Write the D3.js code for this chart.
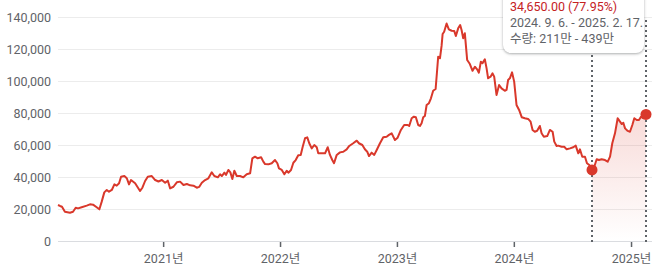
<!DOCTYPE html>
<html>
<head>
<meta charset="utf-8">
<script src="https://cdn.jsdelivr.net/npm/d3@7"></script>
<style>
  body { margin: 0; background: #fff; font-family: Roboto, "Noto Sans CJK KR", sans-serif; }
  #chart { position: relative; width: 656px; height: 270px; overflow: hidden; }
  .tip {
    position: absolute; left: 503px; top: -12px; width: 141px; height: 65px;
    background: #fff; border-radius: 8px; box-sizing: border-box;
    padding: 11px 0 0 7px; font-size: 12.5px; line-height: 16px; color: #5f6368;
    box-shadow: 0 1px 3px rgba(60,64,67,.3), 0 1px 2px rgba(60,64,67,.15);
    white-space: nowrap;
  }
  .tip .chg { color: #c5221f; }
</style>
</head>
<body>
<div id="chart"></div>
<script>
// time as decimal years
const t = [
  2020.103, 2020.120, 2020.137, 2020.162, 2020.205, 2020.231, 2020.254, 2020.274, 2020.305, 2020.348,
  2020.376, 2020.402, 2020.433, 2020.456, 2020.476, 2020.498, 2020.519, 2020.538, 2020.562, 2020.584,
  2020.604, 2020.624, 2020.641, 2020.669, 2020.690, 2020.709, 2020.726, 2020.761, 2020.803, 2020.823,
  2020.846, 2020.869, 2020.903, 2020.932, 2020.960, 2020.989, 2021.017, 2021.040, 2021.060, 2021.088,
  2021.117, 2021.145, 2021.174, 2021.203, 2021.231, 2021.259, 2021.288, 2021.308, 2021.331, 2021.359,
  2021.387, 2021.416, 2021.438, 2021.468, 2021.487, 2021.502, 2021.524, 2021.538, 2021.558, 2021.575,
  2021.592, 2021.609, 2021.630, 2021.658, 2021.686, 2021.715, 2021.744, 2021.763, 2021.786, 2021.809,
  2021.838, 2021.857, 2021.872, 2021.900, 2021.929, 2021.957, 2021.977, 2021.991, 2022.015, 2022.037,
  2022.057, 2022.071, 2022.094, 2022.114, 2022.134, 2022.156, 2022.177, 2022.194, 2022.214, 2022.233,
  2022.250, 2022.271, 2022.293, 2022.314, 2022.327, 2022.356, 2022.385, 2022.408, 2022.427, 2022.447,
  2022.462, 2022.485, 2022.513, 2022.541, 2022.570, 2022.592, 2022.626, 2022.656, 2022.675, 2022.704,
  2022.726, 2022.746, 2022.761, 2022.784, 2022.806, 2022.827, 2022.855, 2022.883, 2022.912, 2022.932,
  2022.955, 2022.983, 2023.006, 2023.034, 2023.062, 2023.091, 2023.105, 2023.126, 2023.145, 2023.162,
  2023.182, 2023.197, 2023.211, 2023.225, 2023.239, 2023.254, 2023.274, 2023.291, 2023.310, 2023.331,
  2023.344, 2023.353, 2023.368, 2023.382, 2023.391, 2023.404, 2023.425, 2023.444, 2023.468, 2023.490,
  2023.504, 2023.524, 2023.541, 2023.553, 2023.567, 2023.581, 2023.601, 2023.624, 2023.647, 2023.667,
  2023.686, 2023.701, 2023.718, 2023.732, 2023.752, 2023.767, 2023.780, 2023.801, 2023.818, 2023.832,
  2023.852, 2023.874, 2023.895, 2023.923, 2023.938, 2023.951, 2023.966, 2023.985, 2024.003, 2024.023,
  2024.045, 2024.068, 2024.094, 2024.122, 2024.143, 2024.160, 2024.179, 2024.199, 2024.222, 2024.237,
  2024.256, 2024.285, 2024.308, 2024.331, 2024.345, 2024.365, 2024.379, 2024.408, 2024.430, 2024.451,
  2024.479, 2024.507, 2024.528, 2024.550, 2024.564, 2024.584, 2024.607, 2024.624, 2024.644, 2024.667,
  2024.686, 2024.707, 2024.726, 2024.749, 2024.778, 2024.801, 2024.821, 2024.840, 2024.863, 2024.886,
  2024.900, 2024.921, 2024.934, 2024.949, 2024.972, 2024.991, 2025.011, 2025.028, 2025.049, 2025.068,
  2025.085, 2025.105, 2025.128
];
const price = [
  22500, 21900, 21400, 18300, 17700, 18300, 20800, 20400, 21100, 22100,
  22900, 22700, 21100, 19800, 24600, 30400, 31900, 30800, 31900, 35400,
  34600, 36100, 40200, 40600, 39200, 35400, 38100, 36100, 31300, 33300,
  37500, 40200, 40600, 38100, 37200, 38100, 36400, 37700, 32900, 33900,
  36700, 37100, 35000, 35600, 34800, 34600, 33300, 33800, 36400, 38100,
  39200, 42900, 40600, 39800, 41700, 40600, 42700, 41300, 44400, 42900,
  38800, 43900, 40600, 40600, 39800, 41700, 42300, 51700, 52700, 51700,
  52300, 49600, 48100, 47900, 48600, 50600, 48600, 45400, 44400, 41700,
  43900, 42700, 44400, 48900, 50600, 53600, 53800, 58900, 64200, 64800,
  61100, 57900, 60000, 58600, 54800, 54800, 54800, 58600, 53800, 50600,
  48600, 53800, 55400, 55800, 57300, 59400, 61100, 62700, 61100, 60000,
  57300, 55800, 53100, 55200, 53800, 56900, 61100, 64800, 65200, 66300,
  67300, 63100, 64600, 69400, 72500, 72500, 71900, 76700, 77700, 77300,
  72500, 71900, 73600, 77300, 78100, 85000, 86100, 89200, 93900, 95000,
  106900, 115200, 114200, 121900, 129400, 130800, 135900, 132300, 131400, 131300,
  128100, 132900, 135000, 131900, 126700, 129800, 113100, 110600, 106400, 108900,
  107300, 105200, 112100, 111100, 113600, 107900, 101700, 102700, 104800, 102700,
  91300, 97500, 95400, 93900, 94400, 100600, 101700, 105400, 99600, 85000,
  81900, 77300, 76700, 76300, 74600, 69400, 68300, 68900, 71900, 67300,
  65200, 65600, 69400, 68300, 62100, 59400, 59600, 58900, 58900, 57300,
  57900, 58600, 59600, 54800, 57300, 52700, 52700, 48600, 47500, 44451,
  46400, 51100, 50600, 51100, 50600, 49600, 52700, 61100, 67300, 76700,
  75200, 73100, 73900, 70400, 68800, 68300, 72500, 76700, 75600, 75600,
  77700, 76700, 79101
];
const yTicks = [0, 20000, 40000, 60000, 80000, 100000, 120000, 140000];
const xTickYears = [2021, 2022, 2023, 2024, 2025];
const selFrom = 2024.667; // 2024. 9. 6.
const tipLines = ["34,650.00 (77.95%)", "2024. 9. 6. - 2025. 2. 17.", "수량: 211만 - 439만"];

const W = 656, H = 270;
const margin = { top: 17, right: 10, bottom: 29, left: 58 };
const red = "#d9382b";

const toDate = (y) => {
  const yr = Math.floor(y);
  const a = Date.UTC(yr, 0, 1), b = Date.UTC(yr + 1, 0, 1);
  return new Date(a + (y - yr) * (b - a));
};
const data = t.map((d, i) => ({ date: toDate(d), v: price[i], t: d }));

const x = d3.scaleUtc()
  .domain(d3.extent(data, (d) => d.date))
  .range([margin.left, 646]);
const y = d3.scaleLinear()
  .domain([0, 140000])
  .range([H - margin.bottom, margin.top]);

const wrap = d3.select("#chart");
const svg = wrap.append("svg").attr("width", W).attr("height", H);

const defs = svg.append("defs");
const grad = defs.append("linearGradient")
  .attr("id", "selGrad").attr("x1", 0).attr("y1", 0).attr("x2", 0).attr("y2", 1);
grad.append("stop").attr("offset", "0%").attr("stop-color", red).attr("stop-opacity", 0.18);
grad.append("stop").attr("offset", "100%").attr("stop-color", red).attr("stop-opacity", 0);

// grid
svg.append("g")
  .selectAll("line")
  .data(yTicks)
  .join("line")
  .attr("x1", margin.left)
  .attr("x2", 652)
  .attr("y1", (d) => Math.round(y(d)) + 0.5)
  .attr("y2", (d) => Math.round(y(d)) + 0.5)
  .attr("stroke", (d) => (d === 0 ? "#dadce0" : "#ececec"))
  .attr("stroke-width", 1);

// y labels
svg.append("g")
  .selectAll("text")
  .data(yTicks)
  .join("text")
  .attr("x", 51)
  .attr("y", (d) => y(d))
  .attr("dy", "0.36em")
  .attr("text-anchor", "end")
  .attr("fill", "#5f6368")
  .attr("font-size", 12.5)
  .text(d3.format(","));

// x axis
const xAxis = svg.append("g")
  .attr("transform", `translate(0,${Math.round(y(0)) + 1})`)
  .call(
    d3.axisBottom(x)
      .tickValues(xTickYears.map((yr) => new Date(Date.UTC(yr, 0, 1))))
      .tickSize(5)
      .tickPadding(7)
      .tickFormat((d) => `${d.getUTCFullYear()}년`)
  );
xAxis.select(".domain").remove();
xAxis.selectAll(".tick line").attr("stroke", "#5f6368").attr("stroke-width", 1.5);
xAxis.selectAll(".tick text")
  .attr("fill", "#5f6368")
  .attr("font-size", 12.5)
  .attr("font-family", 'Roboto, "Noto Sans CJK KR", sans-serif');

// selection
const sel = data.filter((d) => d.t >= selFrom);
const first = sel[0], last = sel[sel.length - 1];

svg.append("path")
  .datum(sel)
  .attr("fill", "url(#selGrad)")
  .attr("d", d3.area().x((d) => x(d.date)).y0(y(0)).y1((d) => y(d.v)));

svg.append("g")
  .selectAll("line")
  .data([first, last])
  .join("line")
  .attr("x1", (d) => x(d.date))
  .attr("x2", (d) => x(d.date))
  .attr("y1", 20)
  .attr("y2", 244)
  .attr("stroke", "#5f6368")
  .attr("stroke-width", 2)
  .attr("stroke-dasharray", "2,3");

// price line
svg.append("path")
  .datum(data)
  .attr("fill", "none")
  .attr("stroke", red)
  .attr("stroke-width", 2)
  .attr("stroke-linejoin", "round")
  .attr("d", d3.line().x((d) => x(d.date)).y((d) => y(d.v)));

svg.append("g")
  .selectAll("circle")
  .data([first, last])
  .join("circle")
  .attr("cx", (d) => x(d.date))
  .attr("cy", (d) => y(d.v))
  .attr("r", 5.5)
  .attr("fill", red);

// tooltip
const tip = wrap.append("div").attr("class", "tip");
tip.selectAll("div")
  .data(tipLines)
  .join("div")
  .attr("class", (d, i) => (i === 0 ? "chg" : null))
  .text((d) => d);
</script>
</body>
</html>
